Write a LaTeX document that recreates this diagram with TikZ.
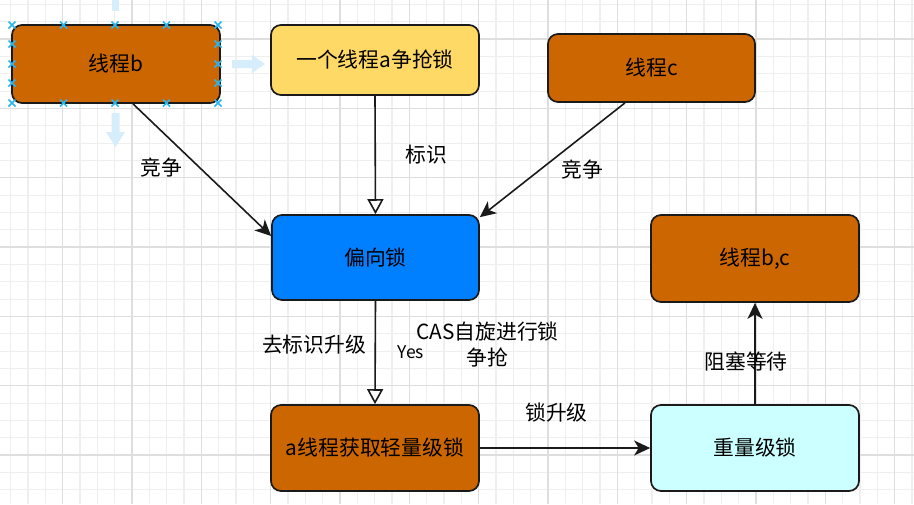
\documentclass[tikz,border=0pt]{standalone}
\usepackage{fontspec}
\setmainfont{Noto Sans CJK SC}
\usetikzlibrary{arrows.meta,calc}
\definecolor{orng}{HTML}{CC6600}
\definecolor{yel}{HTML}{FFD966}
\definecolor{blu}{HTML}{007FFF}
\definecolor{cyn}{HTML}{CCFFFF}
\definecolor{edgec}{HTML}{1A1A1A}
\definecolor{handle}{HTML}{29B6F2}
\definecolor{hover}{HTML}{D6EDFB}
\definecolor{gminor}{HTML}{EFEFEF}
\definecolor{gmajor}{HTML}{DEDEDE}
\tikzset{
  box/.style={draw=edgec, line width=1.7pt, rounded corners=10pt, inner sep=0pt,
    font=\fontsize{20.8}{25}\selectfont, text=black},
  conn/.style={draw=edgec, line width=1.6pt},
  opentri/.style={-{Triangle[open, length=15pt, width=16pt, fill=white, line width=1.6pt]}},
  classic/.style={-{Stealth[length=16pt, width=15pt, inset=4.5pt]}},
  lbl/.style={font=\fontsize{20.8}{25}\selectfont, text=black, inner sep=0pt, align=center},
  lblsmall/.style={font=\fontsize{17.5}{20}\selectfont, text=black, inner sep=0pt},
  hx/.style={draw=handle, line width=1.5pt}
}
\begin{document}
\begin{tikzpicture}[x=1pt,y=-1pt]
\useasboundingbox (0,0) rectangle (914,504);
\fill[white] (0,0) rectangle (914,504);
% grid
\foreach \k in {0,...,52} {\draw[gminor, line width=1.1pt] ({10.7+17.333*\k},0) -- ({10.7+17.333*\k},504);}
\foreach \k in {0,...,29} {\draw[gminor, line width=1.1pt] (0,{4.4+17.333*\k}) -- (914,{4.4+17.333*\k});}
\foreach \k in {-1,...,13} {\draw[gmajor, line width=1.3pt] ({62.7+69.333*\k},0) -- ({62.7+69.333*\k},504);}
\foreach \k in {-1,...,7} {\draw[gmajor, line width=1.3pt] (0,{39.05+69.333*\k}) -- (914,{39.05+69.333*\k});}

% nodes
\node[box, fill=orng, minimum width=208pt, minimum height=78pt] (b) at (116,64) {线程b};
\node[box, fill=yel, minimum width=208pt, minimum height=70pt] (a) at (375,60) {一个线程a争抢锁};
\node[box, fill=orng, minimum width=207pt, minimum height=68pt] (c) at (651.5,68) {线程c};
\node[box, fill=blu, minimum width=207pt, minimum height=85pt] (pian) at (375.5,257.5) {偏向锁};
\node[box, fill=orng, minimum width=208pt, minimum height=87pt] (bc) at (755,258.5) {线程b,c};
\node[box, fill=orng, minimum width=208pt, minimum height=86pt] (light) at (375,448) {a线程获取轻量级锁};
\node[box, fill=cyn, minimum width=208pt, minimum height=86pt] (heavy) at (755,448) {重量级锁};

% connectors
\draw[conn, classic] ([xshift=17pt]b.south) -- ([yshift=21.5pt]pian.west);
\draw[conn, classic] ([xshift=-26.5pt]c.south) -- ([yshift=-3pt]pian.north east);
\draw[conn, opentri] (a.south) -- (pian.north);
\draw[conn, opentri] (pian.south) -- (light.north);
\draw[conn, classic] (light.east) -- (heavy.west);
\draw[conn, classic] (heavy.north) -- (bc.south);

% labels
\node[lbl] (l1) at (161,168) {竞争};
\node[lbl] (l2) at (426,155) {标识};
\node[lbl] (l3) at (582,170) {竞争};
\node[lbl] (l4) at (314,345) {去标识升级};
\node[lblsmall] (l5) at (411,352) {Yes};
\node[lbl] (l6) at (487.5,332) {CAS自旋进行锁};
\node[lbl] (l7) at (487.5,357) {争抢};
\node[lbl] (l8) at (556.5,413) {锁升级};
\node[lbl] (l9) at (746,362) {阻塞等待};

% selection handles on b
\foreach \hx in {12,63.5,115,166.5,218} {
  \foreach \hy in {25,103} {
    \draw[hx] (\hx-3.5,\hy-3.5) -- (\hx+3.5,\hy+3.5) (\hx-3.5,\hy+3.5) -- (\hx+3.5,\hy-3.5);
  }
}
\foreach \hx in {12,218} {
  \foreach \hy in {44,64,83} {
    \draw[hx] (\hx-3.5,\hy-3.5) -- (\hx+3.5,\hy+3.5) (\hx-3.5,\hy+3.5) -- (\hx+3.5,\hy-3.5);
  }
}
% hover arrows
\fill[hover] (111.5,0) rectangle (119,11);
\fill[hover] (232,60) -- (252,60) -- (252,55) -- (265,64) -- (252,73) -- (252,68) -- (232,68) -- cycle;
\fill[hover] (111.5,113) -- (111.5,132) -- (106,132) -- (115.5,147) -- (125,132) -- (119.5,132) -- (119.5,113) -- cycle;
\end{tikzpicture}
\end{document}
